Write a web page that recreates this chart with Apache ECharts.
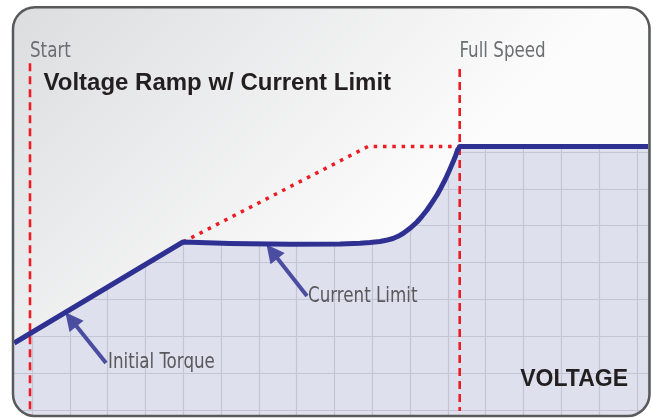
<!DOCTYPE html>
<html>
<head>
<meta charset="utf-8">
<script src="https://cdn.jsdelivr.net/npm/echarts@6/dist/echarts.min.js"></script>
<style>
  html, body { margin: 0; padding: 0; background: #fff; }
  #chart { width: 653px; height: 418px; }
</style>
</head>
<body>
<div id="chart"></div>
<script>
// one grid cell = 1 unit on both axes
var rampCurve = [
    [-0.47, 1.818], [3.995, 4.558], [5.238, 4.517], [6.825, 4.495], [8.148, 4.504],
    [8.677, 4.523], [8.942, 4.542], [9.206, 4.571], [9.365, 4.604], [9.550, 4.653],
    [9.683, 4.712], [9.815, 4.788], [10.000, 4.929], [10.185, 5.100], [10.317, 5.255],
    [10.450, 5.426], [10.582, 5.624], [10.714, 5.833], [10.820, 6.031], [10.926, 6.240],
    [11.032, 6.479], [11.138, 6.728], [11.204, 6.891], [11.257, 7.054], [11.323, 7.149],
    [16.3, 7.149]
];
var openRamp = [[3.995, 4.558], [8.89, 7.15], [11.315, 7.15]];
var startLine = [[-0.053, 9.41], [-0.053, -0.2]];
var fullSpeedLine = [[11.315, 9.25], [11.315, -0.03]];
var arrowLines = [
    [[1.958, 1.275], [1.03, 2.46]],
    [[7.275, 3.093], [6.35, 4.30]]
];

var thinFont = '"Liberation Sans Narrow", "DejaVu Sans Condensed", sans-serif';
var boldFont = '"Liberation Sans", Arial, sans-serif';

var dom = document.getElementById('chart');
var myChart = echarts.init(dom, null, {renderer: 'canvas'});

var bgGrad = new echarts.graphic.LinearGradient(20, 0, 320, 300, [
    {offset: 0, color: '#dcdddf'},
    {offset: 1, color: '#fcfcfc'}
], true);

function label(text, x, y, color) {
    return {type: 'text', z: 15, x: x, y: y, scaleX: 0.885,
        style: {x: 0, y: 0, text: text, font: '21px ' + thinFont, fill: color, verticalAlign: 'middle'}};
}

var option = {
    backgroundColor: '#fff',
    animation: false,
    grid: {left: -5.8, right: 4.86, top: 4.54, bottom: -28.86, outerBoundsMode: 'none', containLabel: false},
    xAxis: {
        type: 'value', min: -1, max: 16.3, interval: 1, z: 2,
        axisLine: {show: false}, axisTick: {show: false}, axisLabel: {show: false},
        splitLine: {show: true, lineStyle: {color: '#c4c5d3', width: 1.2}}
    },
    yAxis: {
        type: 'value', min: -1, max: 11, interval: 1, z: 2,
        axisLine: {show: false}, axisTick: {show: false}, axisLabel: {show: false},
        splitLine: {show: true, lineStyle: {color: '#c4c5d3', width: 1.2}}
    },
    graphic: [
        {type: 'rect', z: 0, silent: true,
            shape: {x: 13, y: 7.2, width: 636.5, height: 408.8, r: 22},
            style: {fill: bgGrad}},
        label('Start', 30, 52, '#6d6e71'),
        label('Full Speed', 459.5, 52, '#6d6e71'),
        label('Initial Torque', 108, 362.5, '#58595b'),
        label('Current Limit', 308, 296.5, '#58595b'),
        {type: 'text', z: 15, style: {x: 43.5, y: 83.5, text: 'Voltage Ramp w/ Current Limit',
            font: 'bold 24px ' + boldFont, fill: '#231f20', verticalAlign: 'middle'}},
        {type: 'text', z: 15, style: {x: 628, y: 379.5, text: 'VOLTAGE', font: 'bold 23px ' + boldFont,
            fill: '#231f20', verticalAlign: 'middle', align: 'right'}},
        // white band outside the frame, masks the corners
        {type: 'rect', z: 20, silent: true,
            shape: {x: -7, y: -12.8, width: 676.5, height: 448.8, r: 42},
            style: {fill: 'none', stroke: '#fff', lineWidth: 40}},
        {type: 'rect', z: 21, silent: true,
            shape: {x: 13, y: 7.2, width: 636.5, height: 408.8, r: 22},
            style: {fill: 'none', stroke: '#58595b', lineWidth: 2.5}}
    ],
    series: [
        { // lavender fill below the curve
            type: 'line', data: rampCurve, z: 1, symbol: 'none', silent: true,
            lineStyle: {width: 0},
            areaStyle: {color: '#dfe0ee', opacity: 1, origin: 'start'}
        },
        { // background above the curve hides the grid
            type: 'line', data: rampCurve, z: 3, symbol: 'none', silent: true,
            lineStyle: {width: 0},
            areaStyle: {color: bgGrad, opacity: 1, origin: 'end'}
        },
        {
            type: 'line', data: openRamp, z: 5, symbol: 'none',
            lineStyle: {color: '#ed1c24', width: 3.5, type: [3.5, 5.8], cap: 'butt'}
        },
        {
            type: 'line', data: startLine, z: 5, symbol: 'none',
            lineStyle: {color: '#ed1c24', width: 2.6, type: [8, 5]}
        },
        {
            type: 'line', data: fullSpeedLine, z: 5, symbol: 'none',
            lineStyle: {color: '#ed1c24', width: 2.6, type: [8, 5]}
        },
        {
            type: 'line', data: rampCurve, z: 6, symbol: 'none',
            lineStyle: {color: '#2e3192', width: 5, join: 'round'}
        },
        {
            type: 'lines', coordinateSystem: 'cartesian2d', z: 6,
            symbol: ['none', 'triangle'], symbolSize: [15, 18],
            lineStyle: {color: '#4b4da0', width: 4, opacity: 1, curveness: 0},
            data: arrowLines.map(function (c) { return {coords: c}; })
        }
    ]
};

if (option && typeof option === "object") {
    myChart.setOption(option, true);
}
</script>
</body>
</html>
